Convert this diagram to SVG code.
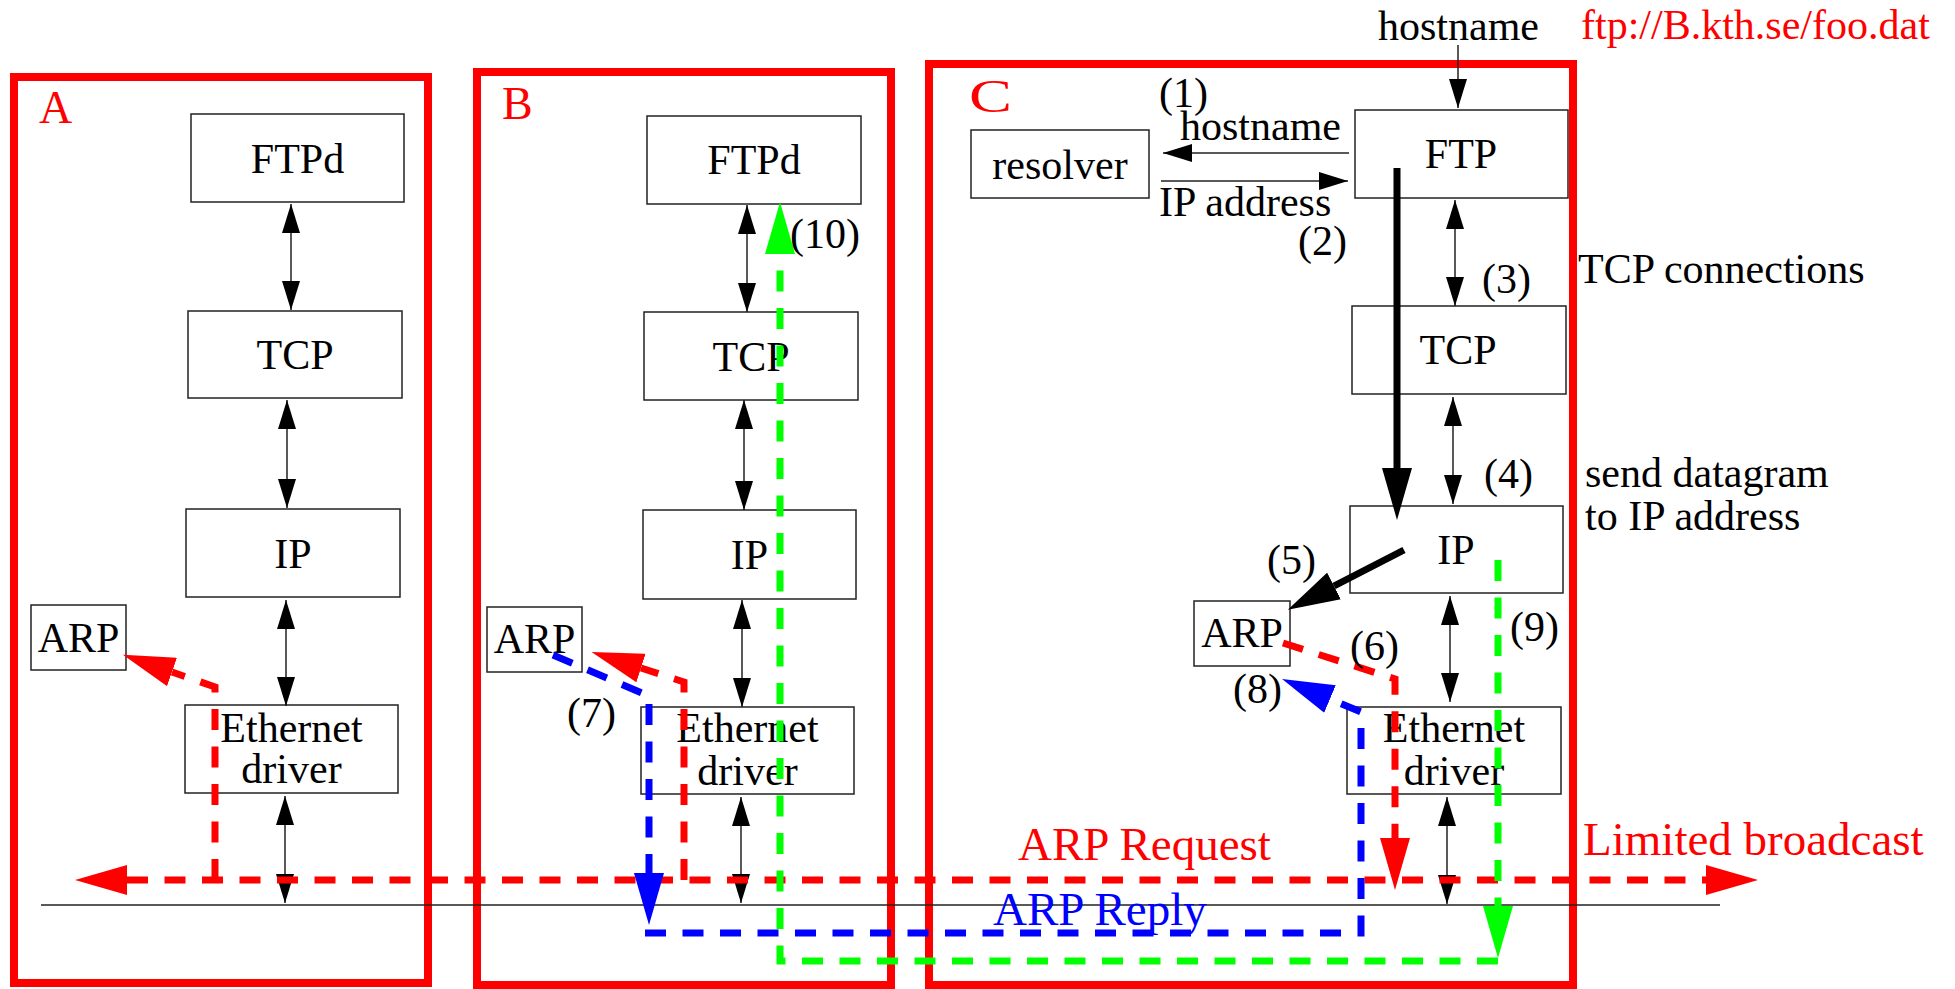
<svg xmlns="http://www.w3.org/2000/svg" width="1955" height="989" viewBox="0 0 1955 989">
<style>
text{font-family:"Liberation Serif","Times New Roman",serif;font-size:42px;fill:#000}
.c{text-anchor:middle}
.big{font-size:47px}
.lbl{font-size:46px;fill:#f00}
.red{fill:#f00}
.blue{fill:#00f}
.frame{fill:none;stroke:#f00;stroke-width:8}
.box{fill:#fff;stroke:#222;stroke-width:1.5}
.thin{fill:none;stroke:#222;stroke-width:1.5}
.dr{fill:none;stroke:#f00;stroke-width:7;stroke-dasharray:21 16.5}
.db{fill:none;stroke:#00f;stroke-width:7;stroke-dasharray:21 16.5}
.dg{fill:none;stroke:#0f0;stroke-width:7;stroke-dasharray:21 16.5}
.thick{fill:none;stroke:#000;stroke-width:7}
</style>
<defs>
<marker id="ta" markerUnits="userSpaceOnUse" markerWidth="29" markerHeight="18" refX="29" refY="9" orient="auto-start-reverse"><path d="M0,0 L29,9 L0,18 z" fill="#000"/></marker>
<marker id="hr" markerUnits="userSpaceOnUse" markerWidth="52" markerHeight="30" refX="0" refY="15" orient="auto-start-reverse"><path d="M0,0 L52,15 L0,30 z" fill="#f00"/></marker>
<marker id="hb" markerUnits="userSpaceOnUse" markerWidth="52" markerHeight="30" refX="0" refY="15" orient="auto"><path d="M0,0 L52,15 L0,30 z" fill="#00f"/></marker>
<marker id="hg" markerUnits="userSpaceOnUse" markerWidth="52" markerHeight="30" refX="0" refY="15" orient="auto"><path d="M0,0 L52,15 L0,30 z" fill="#0f0"/></marker>
<marker id="hk" markerUnits="userSpaceOnUse" markerWidth="52" markerHeight="30" refX="0" refY="15" orient="auto"><path d="M0,0 L52,15 L0,30 z" fill="#000"/></marker>
</defs>
<rect width="1955" height="989" fill="#fff"/>

<g id="hostA">
<rect class="frame" x="14" y="77" width="414" height="906"/>
<text class="lbl" x="39" y="123">A</text>
</g>
<g id="hostB">
<rect class="frame" x="477" y="72" width="414" height="913"/>
<text class="lbl" x="502" y="119">B</text>
</g>
<g id="hostC">
<rect class="frame" x="929" y="64" width="644" height="921"/>
<text class="lbl" x="969" y="112" textLength="43" lengthAdjust="spacingAndGlyphs">C</text>
</g>

<g id="A-FTPd"><rect class="box" x="191" y="114" width="213" height="88"/><text class="c" x="297.5" y="173">FTPd</text></g>
<g id="A-TCP"><rect class="box" x="188" y="311" width="214" height="87"/><text class="c" x="295" y="369">TCP</text></g>
<g id="A-IP"><rect class="box" x="186" y="509" width="214" height="88"/><text class="c" x="293" y="568">IP</text></g>
<g id="A-ARP"><rect class="box" x="31" y="605" width="95" height="65"/><text class="c" x="78.5" y="652">ARP</text></g>
<g id="A-Eth"><rect class="box" x="185" y="705" width="213" height="88"/><text class="c" x="291.5" y="742">Ethernet</text><text class="c" x="291.5" y="783">driver</text></g>

<g id="B-FTPd"><rect class="box" x="647" y="116" width="214" height="88"/><text class="c" x="754" y="174">FTPd</text></g>
<g id="B-TCP"><rect class="box" x="644" y="312" width="214" height="88"/><text class="c" x="751" y="371">TCP</text></g>
<g id="B-IP"><rect class="box" x="643" y="510" width="213" height="89"/><text class="c" x="749.5" y="569">IP</text></g>
<g id="B-ARP"><rect class="box" x="487" y="607" width="95" height="65"/><text class="c" x="534.5" y="653">ARP</text></g>
<g id="B-Eth"><rect class="box" x="641" y="707" width="213" height="87"/><text class="c" x="747.5" y="742">Ethernet</text><text class="c" x="747.5" y="785">driver</text></g>

<g id="C-resolver"><rect class="box" x="971" y="130" width="178" height="68"/><text class="c" x="1060" y="179">resolver</text></g>
<g id="C-FTP"><rect class="box" x="1355" y="110" width="213" height="88"/><text class="c" x="1461" y="168">FTP</text></g>
<g id="C-TCP"><rect class="box" x="1352" y="306" width="214" height="88"/><text class="c" x="1458" y="364">TCP</text></g>
<g id="C-IP"><rect class="box" x="1350" y="506" width="213" height="87"/><text class="c" x="1456" y="564">IP</text></g>
<g id="C-ARP"><rect class="box" x="1194" y="601" width="96" height="65"/><text class="c" x="1242" y="647">ARP</text></g>
<g id="C-Eth"><rect class="box" x="1347" y="707" width="214" height="87"/><text class="c" x="1454" y="742">Ethernet</text><text class="c" x="1454" y="785">driver</text></g>

<g id="connectors">
<path class="thin" d="M41,905 L1720,905"/>
<path class="thin" d="M291,204 L291,310" marker-start="url(#ta)" marker-end="url(#ta)"/>
<path class="thin" d="M287,400 L287,508" marker-start="url(#ta)" marker-end="url(#ta)"/>
<path class="thin" d="M286,600 L286,706" marker-start="url(#ta)" marker-end="url(#ta)"/>
<path class="thin" d="M285,796 L285,903" marker-start="url(#ta)" marker-end="url(#ta)"/>
<path class="thin" d="M747,205 L747,312" marker-start="url(#ta)" marker-end="url(#ta)"/>
<path class="thin" d="M744,400 L744,510" marker-start="url(#ta)" marker-end="url(#ta)"/>
<path class="thin" d="M742,600 L742,707" marker-start="url(#ta)" marker-end="url(#ta)"/>
<path class="thin" d="M741,797 L741,903" marker-start="url(#ta)" marker-end="url(#ta)"/>
<path class="thin" d="M1455,200 L1455,306" marker-start="url(#ta)" marker-end="url(#ta)"/>
<path class="thin" d="M1453,397 L1453,504" marker-start="url(#ta)" marker-end="url(#ta)"/>
<path class="thin" d="M1450,596 L1450,702" marker-start="url(#ta)" marker-end="url(#ta)"/>
<path class="thin" d="M1447,797 L1447,904" marker-start="url(#ta)" marker-end="url(#ta)"/>
<path class="thin" d="M1458,45 L1458,108" marker-end="url(#ta)"/>
<path class="thin" d="M1349,153 L1163,153" marker-end="url(#ta)"/>
<path class="thin" d="M1161,181 L1348,181" marker-end="url(#ta)"/>

<path class="thick" d="M1397,168 L1397,468" marker-end="url(#hk)"/>
<path class="thick" d="M1404,550 L1334,586" marker-end="url(#hk)"/>

<path class="dr" d="M127,880 L1706,880" marker-start="url(#hr)" marker-end="url(#hr)"/>
<path class="dr" d="M215,880 L215,687 L172,672" marker-end="url(#hr)"/>
<path class="dr" d="M684,880 L684,682 L641,668" marker-end="url(#hr)"/>
<path class="dr" d="M1283,643 L1395,679 L1395,838" marker-end="url(#hr)"/>

<path class="db" d="M553,655 L649,696 L649,873" marker-end="url(#hb)"/>
<path class="db" d="M645,933 L1361,933 L1361,712 L1330,699" marker-end="url(#hb)"/>

<path class="dg" d="M1498,560 L1498,906" marker-end="url(#hg)"/>
<path class="dg" d="M1498,961 L780,961 L780,254" marker-end="url(#hg)"/>
</g>

<g id="labels">
<text x="1378" y="40">hostname</text>
<text class="red" x="1581" y="39">ftp://B.kth.se/foo.dat</text>
<text x="1159" y="107">(1)</text>
<text x="1180" y="140">hostname</text>
<text x="1159" y="216">IP address</text>
<text x="1298" y="255">(2)</text>
<text x="1482" y="293">(3)</text>
<text x="1578" y="283">TCP connections</text>
<text x="1484" y="488">(4)</text>
<text x="1585" y="487">send datagram</text>
<text x="1585" y="530">to IP address</text>
<text x="1267" y="574">(5)</text>
<text x="1510" y="641">(9)</text>
<text x="1350" y="660">(6)</text>
<text x="1233" y="703">(8)</text>
<text x="790" y="248">(10)</text>
<text x="567" y="727">(7)</text>
<text class="big red" x="1018" y="860">ARP Request</text>
<text class="big red" x="1583" y="855">Limited broadcast</text>
<text class="big blue" x="993" y="925">ARP Reply</text>
</g>
</svg>
